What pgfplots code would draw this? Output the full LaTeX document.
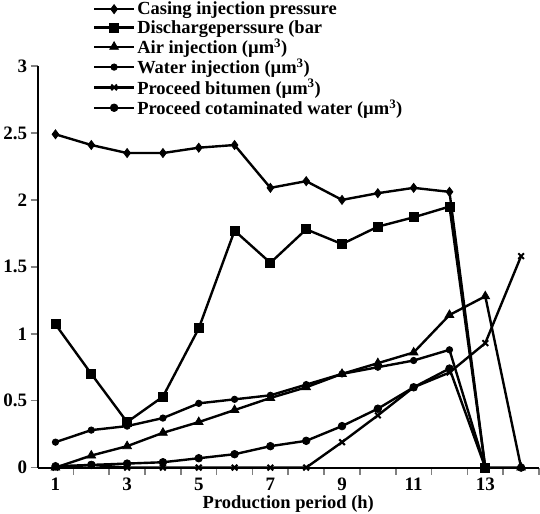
\documentclass[border=0pt]{standalone}
\usepackage{pgfplots}
\pgfplotsset{compat=1.18}
\usepackage{fontspec}
\setmainfont{Liberation Serif}
\begin{document}
\begin{tikzpicture}
\begin{axis}[
  scale only axis, width=502pt, height=402pt,
  xmin=0.5, xmax=14.5, ymin=0, ymax=3,
  axis x line=bottom, axis y line=left,
  axis line style={-, line width=2pt},
  xtick={1,3,...,13},
  minor xtick={1.5,2.5,...,14.5},
  major x tick style={draw=none},
  minor x tick style={line width=1.6pt},
  minor tick length=7pt,
  ytick={0,0.5,...,3},
  yticklabels={0,0.5,1,1.5,2,2.5,3},
  y tick style={line width=1.6pt},
  major tick length=7pt,
  tick align=outside,
  /pgf/number format/assume math mode=true,
  tick label style={font=\fontsize{19}{21}\bfseries},
  xlabel={Production period (h)},
  xlabel style={font=\fontsize{18.5}{21}\bfseries, inner sep=1pt},
  legend style={at={(rel axis cs:0.11,1.165)}, anchor=north west, draw=none, fill=none,
    font=\fontsize{18.5}{21}\bfseries, row sep=0pt, inner sep=0pt,
    cells={anchor=west}},
  legend cell align=left,
  legend image code/.code={%
    \draw[#1, mark=none, line width=2.4pt] (0pt,0pt) -- (40pt,0pt);
    \draw[#1, only marks] plot coordinates {(20pt,0pt)};},
  every axis plot/.append style={black, line width=2.4pt, mark options={solid, fill=black, line width=0.8pt}},
  clip=false,
]
% Casing injection pressure
\addplot[mark=diamond*, mark size=4.5pt] coordinates {
(1,2.49) (2,2.41) (3,2.35) (4,2.35) (5,2.39) (6,2.41) (7,2.09) (8,2.14) (9,2.00) (10,2.05) (11,2.09) (12,2.06) (13,0)};
\addlegendentry{Casing injection pressure}
% Discharge pressure
\addplot[mark=square*, mark size=4.5pt] coordinates {
(1,1.07) (2,0.70) (3,0.34) (4,0.53) (5,1.04) (6,1.77) (7,1.53) (8,1.78) (9,1.67) (10,1.80) (11,1.87) (12,1.95) (13,0)};
\addlegendentry{Dischargeperssure (bar}
% Air injection
\addplot[mark=triangle*, mark size=5pt] coordinates {
(1,0.0) (2,0.09) (3,0.16) (4,0.26) (5,0.34) (6,0.43) (7,0.52) (8,0.60) (9,0.70) (10,0.78) (11,0.86) (12,1.14) (13,1.28) (14,0)};
\addlegendentry{Air injection (\textmu m\textsuperscript{3})}
% Water injection
\addplot[mark=*, mark size=3.2pt] coordinates {
(1,0.19) (2,0.28) (3,0.31) (4,0.37) (5,0.48) (6,0.51) (7,0.54) (8,0.62) (9,0.70) (10,0.75) (11,0.80) (12,0.88) (13,0)};
\addlegendentry{Water injection (\textmu m\textsuperscript{3})}
% Proceed bitumen
\addplot[mark=x, mark size=4pt, mark options={line width=2pt}] coordinates {
(1,0) (2,0.02) (3,0) (4,0) (5,0) (6,0) (7,0) (8,0) (9,0.19) (10,0.39) (11,0.60) (12,0.71) (13,0.93) (14,1.58)};
\addlegendentry{Proceed bitumen (\textmu m\textsuperscript{3})}
% Proceed contaminated water
\addplot[mark=*, mark size=3.8pt] coordinates {
(1,0.01) (2,0.02) (3,0.03) (4,0.04) (5,0.07) (6,0.10) (7,0.16) (8,0.20) (9,0.31) (10,0.44) (11,0.60) (12,0.74) (13,0) (14,0)};
\addlegendentry{Proceed cotaminated water (\textmu m\textsuperscript{3})}
\end{axis}
\end{tikzpicture}
\end{document}
